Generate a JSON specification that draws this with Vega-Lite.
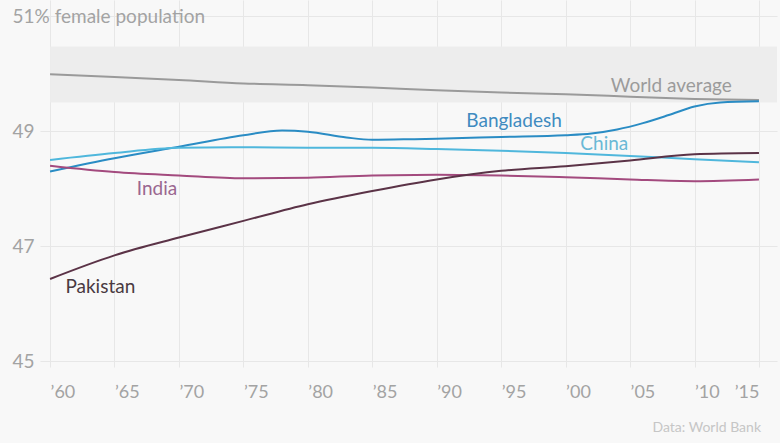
{
  "$schema": "https://vega.github.io/schema/vega-lite/v6.json",
  "width": 737,
  "height": 367,
  "autosize": "none",
  "padding": {"left": 40, "top": 0, "right": 3, "bottom": 76},
  "background": "#f8f8f8",
  "config": {
    "view": {"stroke": null},
    "font": "Lato",
    "axis": {"title": null, "domain": false, "ticks": false, "tickSize": 0, "gridColor": "#e7e7e7", "gridWidth": 1, "labelFont": "Lato", "labelFontSize": 19, "labelColor": "#a3a3a3", "labelLimit": 400}
  },
  "title": {"text": "Data: World Bank", "orient": "bottom", "anchor": "end", "fontSize": 14, "fontWeight": "normal", "color": "#c6c6c6", "font": "Lato", "dx": -16, "offset": 20},
  "encoding": {
    "x": {"field": "year", "type": "quantitative", "scale": {"domain": [1959.22, 2016.4], "nice": false, "zero": false},
      "axis": {"values": [1960, 1965, 1970, 1975, 1980, 1985, 1990, 1995, 2000, 2005, 2010, 2015], "labelExpr": "'\u2019' + slice(toString(datum.value), 2)", "labelAlign": {"condition": {"test": "datum.value == 2015", "value": "right"}, "value": "left"}, "labelBaseline": "top", "labelPadding": 16, "labelFontSize": 18, "labelFlush": false, "grid": true}},
    "y": {"field": "value", "type": "quantitative", "scale": {"domain": [44.9, 51.28], "nice": false, "zero": false},
      "axis": {"values": [45, 47, 49, 51], "labelExpr": "datum.value == 51 ? '51% female population' : datum.label", "labelAlign": "left", "labelBaseline": "middle", "labelPadding": 28, "grid": true}}
  },
  "layer": [
    {
      "data": {"values": [{"year": 1960, "year2": 2016.4, "value": 49.5, "value2": 50.47}]},
      "mark": {"type": "rect", "color": "#ededed"},
      "encoding": {"x2": {"field": "year2"}, "y2": {"field": "value2"}}
    },
    {
      "data": {"values": [
        {"country": "World average", "year": 1960, "value": 49.99},
        {"country": "World average", "year": 1965, "value": 49.94},
        {"country": "World average", "year": 1970, "value": 49.89},
        {"country": "World average", "year": 1975, "value": 49.83},
        {"country": "World average", "year": 1980, "value": 49.80},
        {"country": "World average", "year": 1985, "value": 49.76},
        {"country": "World average", "year": 1990, "value": 49.71},
        {"country": "World average", "year": 1995, "value": 49.67},
        {"country": "World average", "year": 2000, "value": 49.64},
        {"country": "World average", "year": 2005, "value": 49.60},
        {"country": "World average", "year": 2010, "value": 49.56},
        {"country": "World average", "year": 2015, "value": 49.54},
        {"country": "Bangladesh", "year": 1960, "value": 48.30},
        {"country": "Bangladesh", "year": 1965, "value": 48.53},
        {"country": "Bangladesh", "year": 1970, "value": 48.73},
        {"country": "Bangladesh", "year": 1975, "value": 48.93},
        {"country": "Bangladesh", "year": 1978, "value": 49.01},
        {"country": "Bangladesh", "year": 1980, "value": 48.99},
        {"country": "Bangladesh", "year": 1983, "value": 48.89},
        {"country": "Bangladesh", "year": 1985, "value": 48.85},
        {"country": "Bangladesh", "year": 1988, "value": 48.86},
        {"country": "Bangladesh", "year": 1990, "value": 48.87},
        {"country": "Bangladesh", "year": 1995, "value": 48.90},
        {"country": "Bangladesh", "year": 2000, "value": 48.93},
        {"country": "Bangladesh", "year": 2002, "value": 48.96},
        {"country": "Bangladesh", "year": 2004, "value": 49.03},
        {"country": "Bangladesh", "year": 2006, "value": 49.14},
        {"country": "Bangladesh", "year": 2008, "value": 49.28},
        {"country": "Bangladesh", "year": 2010, "value": 49.43},
        {"country": "Bangladesh", "year": 2012, "value": 49.50},
        {"country": "Bangladesh", "year": 2015, "value": 49.52},
        {"country": "China", "year": 1960, "value": 48.50},
        {"country": "China", "year": 1965, "value": 48.62},
        {"country": "China", "year": 1970, "value": 48.71},
        {"country": "China", "year": 1975, "value": 48.72},
        {"country": "China", "year": 1980, "value": 48.71},
        {"country": "China", "year": 1985, "value": 48.71},
        {"country": "China", "year": 1990, "value": 48.69},
        {"country": "China", "year": 1995, "value": 48.66},
        {"country": "China", "year": 2000, "value": 48.62},
        {"country": "China", "year": 2005, "value": 48.57},
        {"country": "China", "year": 2010, "value": 48.51},
        {"country": "China", "year": 2015, "value": 48.46},
        {"country": "India", "year": 1960, "value": 48.40},
        {"country": "India", "year": 1965, "value": 48.29},
        {"country": "India", "year": 1970, "value": 48.23},
        {"country": "India", "year": 1975, "value": 48.18},
        {"country": "India", "year": 1980, "value": 48.19},
        {"country": "India", "year": 1985, "value": 48.23},
        {"country": "India", "year": 1990, "value": 48.24},
        {"country": "India", "year": 1995, "value": 48.23},
        {"country": "India", "year": 2000, "value": 48.20},
        {"country": "India", "year": 2005, "value": 48.16},
        {"country": "India", "year": 2010, "value": 48.13},
        {"country": "India", "year": 2015, "value": 48.16},
        {"country": "Pakistan", "year": 1960, "value": 46.43},
        {"country": "Pakistan", "year": 1965, "value": 46.84},
        {"country": "Pakistan", "year": 1970, "value": 47.15},
        {"country": "Pakistan", "year": 1975, "value": 47.44},
        {"country": "Pakistan", "year": 1980, "value": 47.73},
        {"country": "Pakistan", "year": 1985, "value": 47.96},
        {"country": "Pakistan", "year": 1990, "value": 48.16},
        {"country": "Pakistan", "year": 1995, "value": 48.31},
        {"country": "Pakistan", "year": 2000, "value": 48.39},
        {"country": "Pakistan", "year": 2005, "value": 48.49},
        {"country": "Pakistan", "year": 2010, "value": 48.60},
        {"country": "Pakistan", "year": 2015, "value": 48.62}
      ]},
      "mark": {"type": "line", "interpolate": "monotone", "strokeWidth": 2},
      "encoding": {
        "color": {"field": "country", "type": "nominal", "legend": null,
          "scale": {"domain": ["World average", "Bangladesh", "China", "India", "Pakistan"], "range": ["#9a9a9a", "#2a8cc4", "#4fb7dc", "#a34a7e", "#5b3347"]}}
      }
    },
    {
      "data": {"values": [
        {"label": "World average", "year": 2008.2, "value": 49.78},
        {"label": "Bangladesh", "year": 1996.0, "value": 49.17},
        {"label": "China", "year": 2003.0, "value": 48.77},
        {"label": "India", "year": 1968.3, "value": 47.99},
        {"label": "Pakistan", "year": 1963.9, "value": 46.29}
      ]},
      "mark": {"type": "text", "fontSize": 19, "font": "Lato", "align": "center", "baseline": "middle"},
      "encoding": {
        "text": {"field": "label"},
        "color": {"field": "label", "type": "nominal", "legend": null,
          "scale": {"domain": ["World average", "Bangladesh", "China", "India", "Pakistan"], "range": ["#9b9b9b", "#3f8bc0", "#6ab8d6", "#9a6790", "#4a3a42"]}}
      }
    }
  ],
  "resolve": {"scale": {"color": "independent"}}
}
